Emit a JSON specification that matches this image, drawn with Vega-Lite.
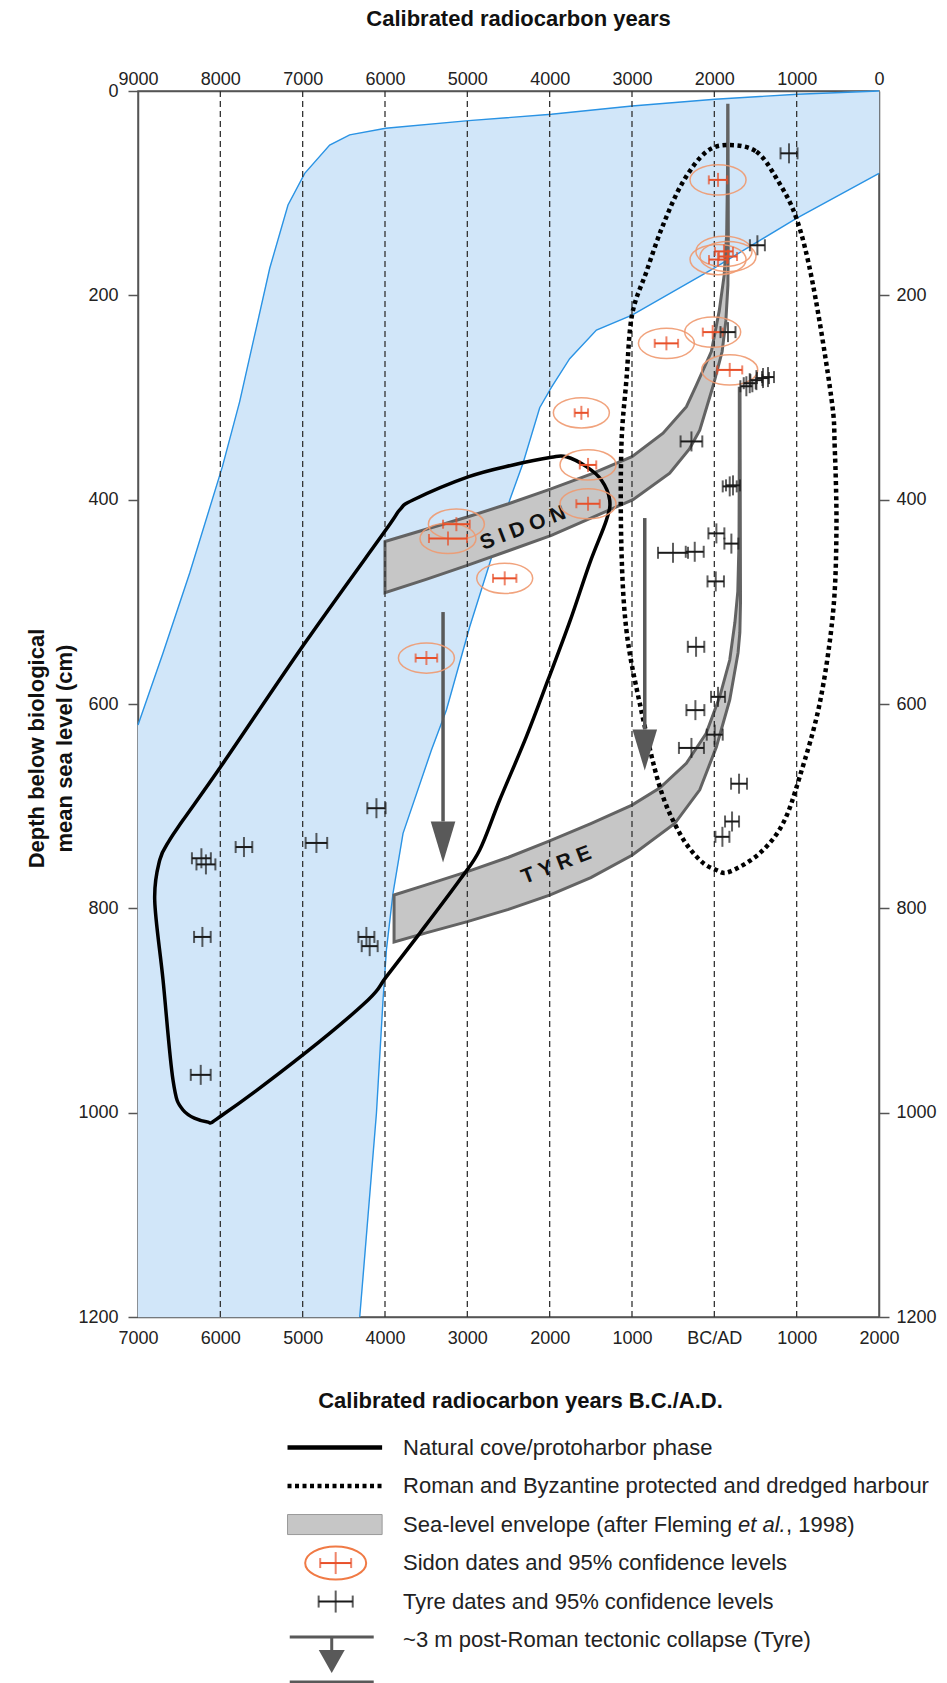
{
"$schema": "https://vega.github.io/schema/vega-lite/v6.json",
"autosize": {"type": "none"},
"padding": {"left": 138, "top": 91, "right": 68, "bottom": 366},
"width": 741,
"height": 1226,
"config": {
  "font": "Liberation Sans",
  "view": {"stroke": "#555", "strokeWidth": 1.5},
  "axis": {"labelFont": "Liberation Sans", "labelFontSize": 18, "labelColor": "#222", "titleFont": "Liberation Sans", "titleFontSize": 22, "titleFontWeight": "bold", "titleColor": "#111", "domainColor": "#555", "domainWidth": 1.5, "tickColor": "#555", "tickWidth": 1.5, "grid": false}
},
"datasets": {
  "blueFill": [
    {"i":0,"year":2000,"depth":0},{"i":1,"year":1009,"depth":3.2},{"i":2,"year":8,"depth":8.1},{"i":3,"year":-1000,"depth":14.7},{"i":4,"year":-1979,"depth":22.8},{"i":5,"year":-2983,"depth":29},{"i":6,"year":-3991,"depth":36.5},{"i":7,"year":-4429,"depth":43},{"i":8,"year":-4672,"depth":52.9},{"i":9,"year":-4975,"depth":80.6},{"i":10,"year":-5178,"depth":111.6},{"i":11,"year":-5400,"depth":173.5},{"i":12,"year":-5765,"depth":304},{"i":13,"year":-5975,"depth":367.7},{"i":14,"year":-6372,"depth":471.8},{"i":15,"year":-6696,"depth":550},{"i":16,"year":-7000,"depth":620.5},{"i":17,"year":-7000,"depth":1200},{"i":18,"year":-4307,"depth":1200},{"i":19,"year":-4104,"depth":1000.6},{"i":20,"year":-4024,"depth":889.7},{"i":21,"year":-3983,"depth":840.8},{"i":22,"year":-3903,"depth":785.3},{"i":23,"year":-3781,"depth":726.6},{"i":24,"year":-3436,"depth":645},{"i":25,"year":-3254,"depth":605.9},{"i":26,"year":-2971,"depth":524.4},{"i":27,"year":-2728,"depth":462.3},{"i":28,"year":-2485,"depth":400.3},{"i":29,"year":-2324,"depth":364.4},{"i":30,"year":-2121,"depth":310},{"i":31,"year":-1979,"depth":290},{"i":32,"year":-1757,"depth":262},{"i":33,"year":-1432,"depth":234},{"i":34,"year":-1000,"depth":219.3},{"i":35,"year":8,"depth":172.8},{"i":36,"year":997,"depth":124.6},{"i":37,"year":2000,"depth":80.6}
  ],
  "blueEdges": [
    {"edge":"upper","i":0,"year":2000,"depth":0},{"edge":"upper","i":1,"year":1009,"depth":3.2},{"edge":"upper","i":2,"year":8,"depth":8.1},{"edge":"upper","i":3,"year":-1000,"depth":14.7},{"edge":"upper","i":4,"year":-1979,"depth":22.8},{"edge":"upper","i":5,"year":-2983,"depth":29},{"edge":"upper","i":6,"year":-3991,"depth":36.5},{"edge":"upper","i":7,"year":-4429,"depth":43},{"edge":"upper","i":8,"year":-4672,"depth":52.9},{"edge":"upper","i":9,"year":-4975,"depth":80.6},{"edge":"upper","i":10,"year":-5178,"depth":111.6},{"edge":"upper","i":11,"year":-5400,"depth":173.5},{"edge":"upper","i":12,"year":-5765,"depth":304},{"edge":"upper","i":13,"year":-5975,"depth":367.7},{"edge":"upper","i":14,"year":-6372,"depth":471.8},{"edge":"upper","i":15,"year":-6696,"depth":550},{"edge":"upper","i":16,"year":-7000,"depth":620.5},
    {"edge":"lower","i":0,"year":-4307,"depth":1200},{"edge":"lower","i":1,"year":-4104,"depth":1000.6},{"edge":"lower","i":2,"year":-4024,"depth":889.7},{"edge":"lower","i":3,"year":-3983,"depth":840.8},{"edge":"lower","i":4,"year":-3903,"depth":785.3},{"edge":"lower","i":5,"year":-3781,"depth":726.6},{"edge":"lower","i":6,"year":-3436,"depth":645},{"edge":"lower","i":7,"year":-3254,"depth":605.9},{"edge":"lower","i":8,"year":-2971,"depth":524.4},{"edge":"lower","i":9,"year":-2728,"depth":462.3},{"edge":"lower","i":10,"year":-2485,"depth":400.3},{"edge":"lower","i":11,"year":-2324,"depth":364.4},{"edge":"lower","i":12,"year":-2121,"depth":310},{"edge":"lower","i":13,"year":-1979,"depth":290},{"edge":"lower","i":14,"year":-1757,"depth":262},{"edge":"lower","i":15,"year":-1432,"depth":234},{"edge":"lower","i":16,"year":-1000,"depth":219.3},{"edge":"lower","i":17,"year":8,"depth":172.8},{"edge":"lower","i":18,"year":997,"depth":124.6},{"edge":"lower","i":19,"year":2000,"depth":80.6}
  ],
  "grid": [{"year":-6000},{"year":-5000},{"year":-4000},{"year":-3000},{"year":-2000},{"year":-1000},{"year":0},{"year":1000}],
  "bands": [
    {"band":"Sidon","i":0,"year":-4000,"depth":441},{"band":"Sidon","i":1,"year":-3500,"depth":429},{"band":"Sidon","i":2,"year":-3000,"depth":417},{"band":"Sidon","i":3,"year":-2500,"depth":404},{"band":"Sidon","i":4,"year":-2000,"depth":390},{"band":"Sidon","i":5,"year":-1500,"depth":375},{"band":"Sidon","i":6,"year":-1000,"depth":358},{"band":"Sidon","i":7,"year":-623,"depth":335},{"band":"Sidon","i":8,"year":-339,"depth":309},{"band":"Sidon","i":9,"year":-218,"depth":288},{"band":"Sidon","i":10,"year":-36,"depth":255},{"band":"Sidon","i":11,"year":60,"depth":215},{"band":"Sidon","i":12,"year":120,"depth":180},{"band":"Sidon","i":13,"year":150,"depth":140},{"band":"Sidon","i":14,"year":160,"depth":80},{"band":"Sidon","i":15,"year":162,"depth":14},{"band":"Sidon","i":16,"year":166,"depth":14},{"band":"Sidon","i":17,"year":168,"depth":80},{"band":"Sidon","i":18,"year":170,"depth":140},{"band":"Sidon","i":19,"year":165,"depth":190},{"band":"Sidon","i":20,"year":140,"depth":225},{"band":"Sidon","i":21,"year":95,"depth":255},{"band":"Sidon","i":22,"year":-16,"depth":289},{"band":"Sidon","i":23,"year":-177,"depth":332},{"band":"Sidon","i":24,"year":-300,"depth":350},{"band":"Sidon","i":25,"year":-542,"depth":374},{"band":"Sidon","i":26,"year":-988,"depth":400},{"band":"Sidon","i":27,"year":-1500,"depth":418},{"band":"Sidon","i":28,"year":-1979,"depth":435},{"band":"Sidon","i":29,"year":-2500,"depth":450},{"band":"Sidon","i":30,"year":-2992,"depth":464},{"band":"Sidon","i":31,"year":-3500,"depth":478},{"band":"Sidon","i":32,"year":-4000,"depth":491},
    {"band":"Tyre","i":0,"year":-3890,"depth":787},{"band":"Tyre","i":1,"year":-3500,"depth":777},{"band":"Tyre","i":2,"year":-3000,"depth":764},{"band":"Tyre","i":3,"year":-2500,"depth":750},{"band":"Tyre","i":4,"year":-2000,"depth":734},{"band":"Tyre","i":5,"year":-1500,"depth":717},{"band":"Tyre","i":6,"year":-1000,"depth":699},{"band":"Tyre","i":7,"year":-660,"depth":682},{"band":"Tyre","i":8,"year":-340,"depth":658},{"band":"Tyre","i":9,"year":-100,"depth":629},{"band":"Tyre","i":10,"year":65,"depth":593},{"band":"Tyre","i":11,"year":187,"depth":557},{"band":"Tyre","i":12,"year":250,"depth":520},{"band":"Tyre","i":13,"year":285,"depth":490},{"band":"Tyre","i":14,"year":300,"depth":440},{"band":"Tyre","i":15,"year":303,"depth":360},{"band":"Tyre","i":16,"year":303,"depth":291},{"band":"Tyre","i":17,"year":312,"depth":291},{"band":"Tyre","i":18,"year":314,"depth":360},{"band":"Tyre","i":19,"year":316,"depth":440},{"band":"Tyre","i":20,"year":318,"depth":500},{"band":"Tyre","i":21,"year":310,"depth":530},{"band":"Tyre","i":22,"year":288,"depth":550},{"band":"Tyre","i":23,"year":187,"depth":596},{"band":"Tyre","i":24,"year":25,"depth":642},{"band":"Tyre","i":25,"year":-177,"depth":684},{"band":"Tyre","i":26,"year":-481,"depth":717},{"band":"Tyre","i":27,"year":-1000,"depth":748},{"band":"Tyre","i":28,"year":-1500,"depth":770},{"band":"Tyre","i":29,"year":-2000,"depth":787},{"band":"Tyre","i":30,"year":-2500,"depth":801},{"band":"Tyre","i":31,"year":-3000,"depth":813},{"band":"Tyre","i":32,"year":-3500,"depth":824},{"band":"Tyre","i":33,"year":-3890,"depth":833}
  ],
  "bandLabels": [{"text":"S I D O N","year":-2324,"depth":428},{"text":"T Y R E","year":-1918,"depth":758}],
  "cove": [
    {"i":0,"year":-6797,"depth":792},{"i":1,"year":-6736,"depth":752.7},{"i":2,"year":-6615,"depth":733},{"i":3,"year":-6453,"depth":713.6},{"i":4,"year":-5975,"depth":659},{"i":5,"year":-4975,"depth":540.6},{"i":6,"year":-3991,"depth":429.7},{"i":7,"year":-3821,"depth":410},{"i":8,"year":-3660,"depth":400.3},{"i":9,"year":-2983,"depth":377.5},{"i":10,"year":-2445,"depth":366},{"i":11,"year":-1979,"depth":358.5},{"i":12,"year":-1797,"depth":358},{"i":13,"year":-1554,"depth":367.7},{"i":14,"year":-1372,"depth":380.8},{"i":15,"year":-1271,"depth":400.3},{"i":16,"year":-1311,"depth":420},{"i":17,"year":-1514,"depth":462.3},{"i":18,"year":-1757,"depth":519.7},{"i":19,"year":-2020,"depth":576.5},{"i":20,"year":-2283,"depth":632},{"i":21,"year":-2607,"depth":694},{"i":22,"year":-2850,"depth":742.9},{"i":23,"year":-3093,"depth":772.3},{"i":24,"year":-3578,"depth":824.4},{"i":25,"year":-3983,"depth":866.9},{"i":26,"year":-4206,"depth":889.7},{"i":27,"year":-4975,"depth":942},{"i":28,"year":-5975,"depth":1002.3},{"i":29,"year":-6169,"depth":1008.8},{"i":30,"year":-6453,"depth":997.4},{"i":31,"year":-6575,"depth":968},{"i":32,"year":-6696,"depth":870}
  ],
  "harbour": [
    {"i":0,"year":187,"depth":52.9},{"i":1,"year":511,"depth":59.4},{"i":2,"year":754,"depth":85.4},{"i":3,"year":997,"depth":124.6},{"i":4,"year":1199,"depth":189.9},{"i":5,"year":1422,"depth":300.8},{"i":6,"year":1462,"depth":348.2},{"i":7,"year":1483,"depth":429.7},{"i":8,"year":1441,"depth":511.2},{"i":9,"year":1280,"depth":599.3},{"i":10,"year":1037,"depth":671.2},{"i":11,"year":834,"depth":716.8},{"i":12,"year":551,"depth":746.1},{"i":13,"year":187,"depth":764.1},{"i":14,"year":25,"depth":762.5},{"i":15,"year":-177,"depth":752.7},{"i":16,"year":-420,"depth":726.6},{"i":17,"year":-663,"depth":681},{"i":18,"year":-906,"depth":599.3},{"i":19,"year":-1068,"depth":527.6},{"i":20,"year":-1129,"depth":446},{"i":21,"year":-1129,"depth":348.2},{"i":22,"year":-1068,"depth":282.9},{"i":23,"year":-1000,"depth":219.3},{"i":24,"year":-825,"depth":176.9},{"i":25,"year":-623,"depth":131.2},{"i":26,"year":-380,"depth":88.8},{"i":27,"year":-96,"depth":59.4}
  ],
  "arrows": [{"year":-3295,"top":510,"head":715},{"year":-845,"top":418,"head":625}],
  "dates": [
    {"site":"Sidon","year":45,"lo":-67,"hi":157,"depth":87},
    {"site":"Sidon","year":117,"lo":7,"hi":227,"depth":157},
    {"site":"Sidon","year":45,"lo":-65,"hi":155,"depth":165},
    {"site":"Sidon","year":166,"lo":56,"hi":276,"depth":162},
    {"site":"Sidon","year":-582,"lo":-724,"hi":-440,"depth":247},
    {"site":"Sidon","year":-20,"lo":-140,"hi":100,"depth":236},
    {"site":"Sidon","year":187,"lo":35,"hi":339,"depth":273},
    {"site":"Sidon","year":-1615,"lo":-1696,"hi":-1534,"depth":315},
    {"site":"Sidon","year":-1534,"lo":-1634,"hi":-1434,"depth":366},
    {"site":"Sidon","year":-1534,"lo":-1676,"hi":-1392,"depth":404},
    {"site":"Sidon","year":-3133,"lo":-3295,"hi":-2971,"depth":424},
    {"site":"Sidon","year":-3235,"lo":-3466,"hi":-3004,"depth":438},
    {"site":"Sidon","year":-2546,"lo":-2688,"hi":-2404,"depth":477},
    {"site":"Sidon","year":-3497,"lo":-3628,"hi":-3366,"depth":555},
    {"site":"Tyre","year":907,"lo":804,"hi":1010,"depth":61},
    {"site":"Tyre","year":523,"lo":432,"hi":614,"depth":151},
    {"site":"Tyre","year":166,"lo":75,"hi":257,"depth":236},
    {"site":"Tyre","year":591,"lo":518,"hi":664,"depth":281},
    {"site":"Tyre","year":652,"lo":579,"hi":725,"depth":280},
    {"site":"Tyre","year":511,"lo":438,"hi":584,"depth":283},
    {"site":"Tyre","year":430,"lo":357,"hi":503,"depth":286},
    {"site":"Tyre","year":389,"lo":316,"hi":462,"depth":289},
    {"site":"Tyre","year":-278,"lo":-410,"hi":-146,"depth":343},
    {"site":"Tyre","year":187,"lo":102,"hi":272,"depth":387},
    {"site":"Tyre","year":227,"lo":142,"hi":312,"depth":386},
    {"site":"Tyre","year":25,"lo":-72,"hi":122,"depth":433},
    {"site":"Tyre","year":207,"lo":122,"hi":292,"depth":443},
    {"site":"Tyre","year":-502,"lo":-684,"hi":-320,"depth":452},
    {"site":"Tyre","year":-238,"lo":-347,"hi":-129,"depth":451},
    {"site":"Tyre","year":17,"lo":-83,"hi":117,"depth":480},
    {"site":"Tyre","year":-222,"lo":-322,"hi":-122,"depth":544},
    {"site":"Tyre","year":45,"lo":-40,"hi":130,"depth":593},
    {"site":"Tyre","year":-230,"lo":-339,"hi":-121,"depth":606},
    {"site":"Tyre","year":5,"lo":-92,"hi":102,"depth":630},
    {"site":"Tyre","year":-278,"lo":-430,"hi":-126,"depth":643},
    {"site":"Tyre","year":300,"lo":203,"hi":397,"depth":678},
    {"site":"Tyre","year":215,"lo":130,"hi":300,"depth":715},
    {"site":"Tyre","year":98,"lo":13,"hi":183,"depth":730},
    {"site":"Tyre","year":-4104,"lo":-4215,"hi":-3993,"depth":702},
    {"site":"Tyre","year":-4833,"lo":-4964,"hi":-4702,"depth":736},
    {"site":"Tyre","year":-5713,"lo":-5814,"hi":-5612,"depth":740},
    {"site":"Tyre","year":-6230,"lo":-6345,"hi":-6115,"depth":751},
    {"site":"Tyre","year":-6175,"lo":-6290,"hi":-6060,"depth":757},
    {"site":"Tyre","year":-6218,"lo":-6319,"hi":-6117,"depth":828},
    {"site":"Tyre","year":-4226,"lo":-4323,"hi":-4129,"depth":828},
    {"site":"Tyre","year":-4186,"lo":-4283,"hi":-4089,"depth":837},
    {"site":"Tyre","year":-6238,"lo":-6359,"hi":-6117,"depth":963}
  ],
  "legend": [
    {"row":0,"label":"Natural cove/protoharbor phase"},
    {"row":1,"label":"Roman and Byzantine protected and dredged harbour"},
    {"row":2,"label":"Sea-level envelope (after Fleming "},
    {"row":3,"label":"Sidon dates and 95% confidence levels"},
    {"row":4,"label":"Tyre dates and 95% confidence levels"},
    {"row":5,"label":"~3 m post-Roman tectonic collapse (Tyre)"}
  ]
},
"layer": [
  {
    "layer": [
      {"data":{"name":"blueFill"},"mark":{"type":"line","interpolate":"linear-closed","fill":"#d1e6f9","stroke":"#d1e6f9","strokeWidth":0.5},
       "encoding":{
         "x":{"field":"year","type":"quantitative","scale":{"domain":[-7000,2000],"nice":false,"zero":false},
              "axis":{"orient":"bottom","values":[-7000,-6000,-5000,-4000,-3000,-2000,-1000,0,1000,2000],"labelExpr":"datum.value == 0 ? 'BC/AD' : format(abs(datum.value), 'd')","ticks":false,"labelPadding":12,"labelFlush":false,"labelOverlap":false,"labelBound":false,"title":"Calibrated radiocarbon years B.C./A.D.","titleX":382,"titleY":83,"titleBaseline":"middle","titleAlign":"center"}},
         "y":{"field":"depth","type":"quantitative","scale":{"domain":[0,1200],"reverse":true,"nice":false,"zero":false},
              "axis":{"orient":"left","values":[0,200,400,600,800,1000,1200],"format":"d","tickSize":10,"labelPadding":10,"labelFlush":false,"labelOverlap":false,"title":["Depth below biological","mean sea level (cm)"],"titleX":-102,"titleY":657,"titleAngle":-90,"titleBaseline":"middle","titleAlign":"center","titleLineHeight":28}},
         "order":{"field":"i","type":"quantitative"}}},
      {"data":{"name":"blueEdges"},"mark":{"type":"line","stroke":"#2a93e4","strokeWidth":1.4},
       "encoding":{
         "x":{"field":"year","type":"quantitative","scale":{"domain":[-7000,2000],"nice":false,"zero":false},
              "axis":{"orient":"top","values":[-7000,-6000,-5000,-4000,-3000,-2000,-1000,0,1000,2000],"labelExpr":"format(2000 - datum.value, 'd')","ticks":false,"labelPadding":3,"labelFlush":false,"labelOverlap":false,"labelBound":false,"title":"Calibrated radiocarbon years","titleX":380,"titleY":-73,"titleBaseline":"middle","titleAlign":"center"}},
         "y":{"field":"depth","type":"quantitative","scale":{"domain":[0,1200],"reverse":true,"nice":false,"zero":false},
              "axis":{"orient":"right","values":[200,400,600,800,1000,1200],"format":"d","tickSize":10,"labelPadding":7,"labelFlush":false,"labelOverlap":false,"title":null}},
         "detail":{"field":"edge","type":"nominal"},
         "order":{"field":"i","type":"quantitative"}}},
      {"data":{"name":"bands"},"mark":{"type":"line","interpolate":"linear-closed","fill":"#c6c6c6","stroke":"#636363","strokeWidth":3},
       "encoding":{
         "x":{"field":"year","type":"quantitative","scale":{"domain":[-7000,2000],"nice":false,"zero":false},"axis":null},
         "y":{"field":"depth","type":"quantitative","scale":{"domain":[0,1200],"reverse":true,"nice":false,"zero":false},"axis":null},
         "detail":{"field":"band","type":"nominal"},
         "order":{"field":"i","type":"quantitative"}}},
      {"data":{"name":"grid"},"mark":{"type":"rule","stroke":"#333","strokeWidth":1.3,"strokeDash":[6,4]},
       "encoding":{"x":{"field":"year","type":"quantitative","scale":{"domain":[-7000,2000],"nice":false,"zero":false},"axis":null}}},
      {"data":{"name":"bandLabels"},"mark":{"type":"text","font":"Liberation Sans","fontSize":21,"fontWeight":"bold","angle":-21,"color":"#111","align":"center","baseline":"middle"},
       "encoding":{
         "x":{"field":"year","type":"quantitative","scale":{"domain":[-7000,2000],"nice":false,"zero":false},"axis":null},
         "y":{"field":"depth","type":"quantitative","scale":{"domain":[0,1200],"reverse":true,"nice":false,"zero":false},"axis":null},
         "text":{"field":"text","type":"nominal"}}},
      {"data":{"name":"cove"},"mark":{"type":"line","interpolate":"cardinal-closed","stroke":"#000","strokeWidth":3.5},
       "encoding":{
         "x":{"field":"year","type":"quantitative","scale":{"domain":[-7000,2000],"nice":false,"zero":false},"axis":null},
         "y":{"field":"depth","type":"quantitative","scale":{"domain":[0,1200],"reverse":true,"nice":false,"zero":false},"axis":null},
         "order":{"field":"i","type":"quantitative"}}},
      {"data":{"name":"harbour"},"mark":{"type":"line","interpolate":"cardinal-closed","stroke":"#000","strokeWidth":4.5,"strokeDash":[4,3.5]},
       "encoding":{
         "x":{"field":"year","type":"quantitative","scale":{"domain":[-7000,2000],"nice":false,"zero":false},"axis":null},
         "y":{"field":"depth","type":"quantitative","scale":{"domain":[0,1200],"reverse":true,"nice":false,"zero":false},"axis":null},
         "order":{"field":"i","type":"quantitative"}}},
      {"data":{"name":"arrows"},"mark":{"type":"rule","stroke":"#595959","strokeWidth":3.5},
       "encoding":{
         "x":{"field":"year","type":"quantitative","scale":{"domain":[-7000,2000],"nice":false,"zero":false},"axis":null},
         "y":{"field":"top","type":"quantitative","scale":{"domain":[0,1200],"reverse":true,"nice":false,"zero":false},"axis":null},
         "y2":{"field":"head"}}},
      {"data":{"name":"arrows"},"mark":{"type":"point","shape":"M-0.6,0L0.6,0L0,2Z","size":1681,"filled":true,"fill":"#595959","opacity":1,"strokeWidth":0},
       "encoding":{
         "x":{"field":"year","type":"quantitative","scale":{"domain":[-7000,2000],"nice":false,"zero":false},"axis":null},
         "y":{"field":"head","type":"quantitative","scale":{"domain":[0,1200],"reverse":true,"nice":false,"zero":false},"axis":null}}},
      {"data":{"name":"dates"},"transform":[{"filter":"datum.site == 'Sidon'"}],
       "mark":{"type":"point","shape":"M1,0C1,0.298,0.552,0.54,0,0.54C-0.552,0.54,-1,0.298,-1,0C-1,-0.298,-0.552,-0.54,0,-0.54C0.552,-0.54,1,-0.298,1,0Z","size":3136,"filled":false,"stroke":"#f09a70","strokeWidth":1.5,"opacity":0.9},
       "encoding":{
         "x":{"field":"year","type":"quantitative","scale":{"domain":[-7000,2000],"nice":false,"zero":false},"axis":null},
         "y":{"field":"depth","type":"quantitative","scale":{"domain":[0,1200],"reverse":true,"nice":false,"zero":false},"axis":null}}},
      {"data":{"name":"dates"},"transform":[{"filter":"datum.site == 'Sidon'"}],"mark":{"type":"rule","stroke":"#e8502a","strokeWidth":2},
       "encoding":{
         "x":{"field":"lo","type":"quantitative","scale":{"domain":[-7000,2000],"nice":false,"zero":false},"axis":null},
         "x2":{"field":"hi"},
         "y":{"field":"depth","type":"quantitative","scale":{"domain":[0,1200],"reverse":true,"nice":false,"zero":false},"axis":null}}},
      {"data":{"name":"dates"},"transform":[{"filter":"datum.site == 'Sidon'"},{"fold":["lo","hi"],"as":["end","x"]}],"mark":{"type":"tick","orient":"vertical","color":"#e8502a","thickness":2,"size":9},
       "encoding":{
         "x":{"field":"x","type":"quantitative","scale":{"domain":[-7000,2000],"nice":false,"zero":false},"axis":null},
         "y":{"field":"depth","type":"quantitative","scale":{"domain":[0,1200],"reverse":true,"nice":false,"zero":false},"axis":null}}},
      {"data":{"name":"dates"},"transform":[{"filter":"datum.site == 'Sidon'"}],"mark":{"type":"tick","orient":"vertical","color":"#e8502a","thickness":2,"size":14},
       "encoding":{
         "x":{"field":"year","type":"quantitative","scale":{"domain":[-7000,2000],"nice":false,"zero":false},"axis":null},
         "y":{"field":"depth","type":"quantitative","scale":{"domain":[0,1200],"reverse":true,"nice":false,"zero":false},"axis":null}}},
      {"data":{"name":"dates"},"transform":[{"filter":"datum.site == 'Tyre'"}],"mark":{"type":"rule","stroke":"#1a1a1a","strokeWidth":2},
       "encoding":{
         "x":{"field":"lo","type":"quantitative","scale":{"domain":[-7000,2000],"nice":false,"zero":false},"axis":null},
         "x2":{"field":"hi"},
         "y":{"field":"depth","type":"quantitative","scale":{"domain":[0,1200],"reverse":true,"nice":false,"zero":false},"axis":null}}},
      {"data":{"name":"dates"},"transform":[{"filter":"datum.site == 'Tyre'"},{"fold":["lo","hi"],"as":["end","x"]}],"mark":{"type":"tick","orient":"vertical","color":"#1a1a1a","thickness":2,"size":12},
       "encoding":{
         "x":{"field":"x","type":"quantitative","scale":{"domain":[-7000,2000],"nice":false,"zero":false},"axis":null},
         "y":{"field":"depth","type":"quantitative","scale":{"domain":[0,1200],"reverse":true,"nice":false,"zero":false},"axis":null}}},
      {"data":{"name":"dates"},"transform":[{"filter":"datum.site == 'Tyre'"}],"mark":{"type":"tick","orient":"vertical","color":"#1a1a1a","thickness":2,"size":20},
       "encoding":{
         "x":{"field":"year","type":"quantitative","scale":{"domain":[-7000,2000],"nice":false,"zero":false},"axis":null},
         "y":{"field":"depth","type":"quantitative","scale":{"domain":[0,1200],"reverse":true,"nice":false,"zero":false},"axis":null}}}
    ],
    "resolve": {"axis": {"x": "independent", "y": "independent"}}
  },
  {
    "layer": [
      {"data":{"name":"legend"},"mark":{"type":"text","font":"Liberation Sans","fontSize":22,"color":"#222","align":"left","baseline":"middle"},
       "encoding":{
         "x":{"datum":-3781,"type":"quantitative","scale":{"domain":[-7000,2000],"nice":false,"zero":false},"axis":null},
         "y":{"field":"row","type":"quantitative","scale":{"domain":[-35.23,-3.39],"reverse":true,"nice":false,"zero":false},"axis":null},
         "text":{"field":"label","type":"nominal"}}},
      {"data":{"values":[{}]},"mark":{"type":"text","font":"Liberation Sans","fontSize":22,"fontStyle":"italic","color":"#222","align":"left","baseline":"middle","dx":335,"text":"et al."},
       "encoding":{
         "x":{"datum":-3781,"type":"quantitative","scale":{"domain":[-7000,2000],"nice":false,"zero":false},"axis":null},
         "y":{"datum":2,"type":"quantitative","scale":{"domain":[-35.23,-3.39],"reverse":true,"nice":false,"zero":false},"axis":null}}},
      {"data":{"values":[{}]},"mark":{"type":"text","font":"Liberation Sans","fontSize":22,"color":"#222","align":"left","baseline":"middle","dx":383,"text":", 1998)"},
       "encoding":{
         "x":{"datum":-3781,"type":"quantitative","scale":{"domain":[-7000,2000],"nice":false,"zero":false},"axis":null},
         "y":{"datum":2,"type":"quantitative","scale":{"domain":[-35.23,-3.39],"reverse":true,"nice":false,"zero":false},"axis":null}}},
      {"data":{"values":[{}]},"mark":{"type":"rule","stroke":"#000","strokeWidth":4.5},
       "encoding":{
         "x":{"datum":-5184,"type":"quantitative","scale":{"domain":[-7000,2000],"nice":false,"zero":false},"axis":null},
         "x2":{"datum":-4035},
         "y":{"datum":0,"type":"quantitative","scale":{"domain":[-35.23,-3.39],"reverse":true,"nice":false,"zero":false},"axis":null}}},
      {"data":{"values":[{}]},"mark":{"type":"rule","stroke":"#000","strokeWidth":4.5,"strokeDash":[4,3.5]},
       "encoding":{
         "x":{"datum":-5184,"type":"quantitative","scale":{"domain":[-7000,2000],"nice":false,"zero":false},"axis":null},
         "x2":{"datum":-4035},
         "y":{"datum":1,"type":"quantitative","scale":{"domain":[-35.23,-3.39],"reverse":true,"nice":false,"zero":false},"axis":null}}},
      {"data":{"values":[{}]},"mark":{"type":"rect","fill":"#c6c6c6","stroke":"#9a9a9a","strokeWidth":1},
       "encoding":{
         "x":{"datum":-5184,"type":"quantitative","scale":{"domain":[-7000,2000],"nice":false,"zero":false},"axis":null},
         "x2":{"datum":-4035},
         "y":{"datum":1.74,"type":"quantitative","scale":{"domain":[-35.23,-3.39],"reverse":true,"nice":false,"zero":false},"axis":null},
         "y2":{"datum":2.26}}},
      {"data":{"values":[{}]},"mark":{"type":"point","shape":"M1,0C1,0.298,0.552,0.54,0,0.54C-0.552,0.54,-1,0.298,-1,0C-1,-0.298,-0.552,-0.54,0,-0.54C0.552,-0.54,1,-0.298,1,0Z","size":3721,"filled":false,"stroke":"#f07a45","strokeWidth":2,"opacity":1},
       "encoding":{
         "x":{"datum":-4599,"type":"quantitative","scale":{"domain":[-7000,2000],"nice":false,"zero":false},"axis":null},
         "y":{"datum":3,"type":"quantitative","scale":{"domain":[-35.23,-3.39],"reverse":true,"nice":false,"zero":false},"axis":null}}},
      {"data":{"values":[{}]},"mark":{"type":"rule","stroke":"#e8502a","strokeWidth":2},
       "encoding":{
         "x":{"datum":-4787,"type":"quantitative","scale":{"domain":[-7000,2000],"nice":false,"zero":false},"axis":null},
         "x2":{"datum":-4411},
         "y":{"datum":3,"type":"quantitative","scale":{"domain":[-35.23,-3.39],"reverse":true,"nice":false,"zero":false},"axis":null}}},
      {"data":{"values":[{"x":-4787},{"x":-4411}]},"mark":{"type":"tick","orient":"vertical","color":"#e8502a","thickness":2,"size":10},
       "encoding":{
         "x":{"field":"x","type":"quantitative","scale":{"domain":[-7000,2000],"nice":false,"zero":false},"axis":null},
         "y":{"datum":3,"type":"quantitative","scale":{"domain":[-35.23,-3.39],"reverse":true,"nice":false,"zero":false},"axis":null}}},
      {"data":{"values":[{}]},"mark":{"type":"tick","orient":"vertical","color":"#e8502a","thickness":2,"size":22},
       "encoding":{
         "x":{"datum":-4599,"type":"quantitative","scale":{"domain":[-7000,2000],"nice":false,"zero":false},"axis":null},
         "y":{"datum":3,"type":"quantitative","scale":{"domain":[-35.23,-3.39],"reverse":true,"nice":false,"zero":false},"axis":null}}},
      {"data":{"values":[{}]},"mark":{"type":"rule","stroke":"#1a1a1a","strokeWidth":2},
       "encoding":{
         "x":{"datum":-4806,"type":"quantitative","scale":{"domain":[-7000,2000],"nice":false,"zero":false},"axis":null},
         "x2":{"datum":-4392},
         "y":{"datum":4,"type":"quantitative","scale":{"domain":[-35.23,-3.39],"reverse":true,"nice":false,"zero":false},"axis":null}}},
      {"data":{"values":[{"x":-4806},{"x":-4392}]},"mark":{"type":"tick","orient":"vertical","color":"#1a1a1a","thickness":2,"size":12},
       "encoding":{
         "x":{"field":"x","type":"quantitative","scale":{"domain":[-7000,2000],"nice":false,"zero":false},"axis":null},
         "y":{"datum":4,"type":"quantitative","scale":{"domain":[-35.23,-3.39],"reverse":true,"nice":false,"zero":false},"axis":null}}},
      {"data":{"values":[{}]},"mark":{"type":"tick","orient":"vertical","color":"#1a1a1a","thickness":2,"size":22},
       "encoding":{
         "x":{"datum":-4599,"type":"quantitative","scale":{"domain":[-7000,2000],"nice":false,"zero":false},"axis":null},
         "y":{"datum":4,"type":"quantitative","scale":{"domain":[-35.23,-3.39],"reverse":true,"nice":false,"zero":false},"axis":null}}},
      {"data":{"values":[{"y":4.92},{"y":6.09}]},"mark":{"type":"rule","stroke":"#595959","strokeWidth":3},
       "encoding":{
         "x":{"datum":-5157,"type":"quantitative","scale":{"domain":[-7000,2000],"nice":false,"zero":false},"axis":null},
         "x2":{"datum":-4137},
         "y":{"field":"y","type":"quantitative","scale":{"domain":[-35.23,-3.39],"reverse":true,"nice":false,"zero":false},"axis":null}}},
      {"data":{"values":[{}]},"mark":{"type":"rule","stroke":"#595959","strokeWidth":3},
       "encoding":{
         "x":{"datum":-4647,"type":"quantitative","scale":{"domain":[-7000,2000],"nice":false,"zero":false},"axis":null},
         "y":{"datum":4.92,"type":"quantitative","scale":{"domain":[-35.23,-3.39],"reverse":true,"nice":false,"zero":false},"axis":null},
         "y2":{"datum":5.3}}},
      {"data":{"values":[{}]},"mark":{"type":"point","shape":"M-1.13,0L1.13,0L0,2Z","size":529,"filled":true,"fill":"#595959","opacity":1,"strokeWidth":0},
       "encoding":{
         "x":{"datum":-4647,"type":"quantitative","scale":{"domain":[-7000,2000],"nice":false,"zero":false},"axis":null},
         "y":{"datum":5.26,"type":"quantitative","scale":{"domain":[-35.23,-3.39],"reverse":true,"nice":false,"zero":false},"axis":null}}}
    ]
  }
],
"resolve": {"scale": {"y": "independent"}, "axis": {"x": "independent", "y": "independent"}}
}
